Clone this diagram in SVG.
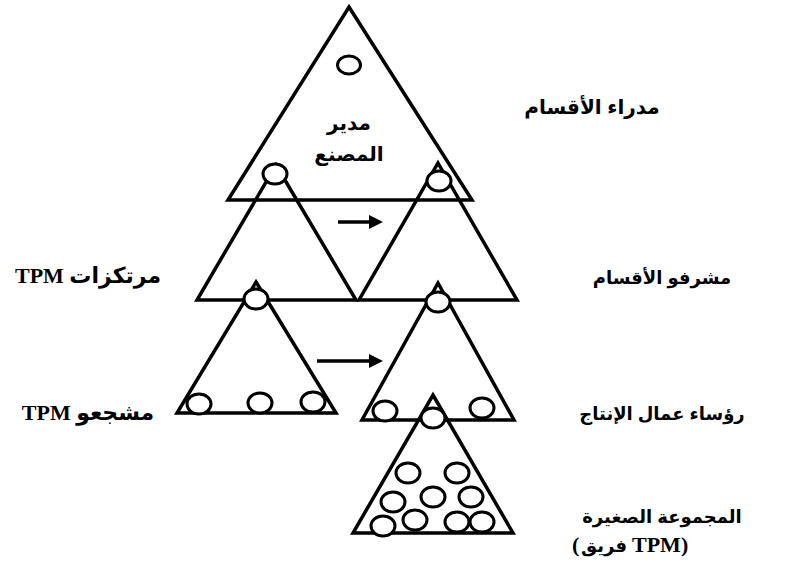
<svg xmlns="http://www.w3.org/2000/svg" width="806" height="570" viewBox="0 0 806 570">
<style>
.tri{fill:none;stroke:#000;stroke-width:3.5;stroke-linejoin:miter}
.c{fill:#fff;stroke:#000;stroke-width:3}
.ar{font-family:"Liberation Sans","DejaVu Sans",sans-serif;font-weight:bold;font-size:20px;fill:#000;text-anchor:middle}
.rl{font-size:18px}
.mx{font-family:"Liberation Serif","DejaVu Sans",serif;font-weight:bold;font-size:22px;fill:#000;text-anchor:middle}
.lt{font-family:"Liberation Serif",serif;font-weight:bold;font-size:22px;fill:#000;text-anchor:start;direction:ltr}
.ln{stroke:#000;stroke-width:3.5}
</style>
<defs>
<marker id="ah" markerWidth="14" markerHeight="14" refX="0" refY="7" orient="auto" markerUnits="userSpaceOnUse" viewBox="0 0 14 14">
<path d="M0,0 L14,7 L0,14 Z" fill="#000"/>
</marker>
</defs>
<rect width="806" height="570" fill="#fff"/>
<g id="top">
<polygon class="tri" points="349,7 472,200 228,200"/>
<ellipse class="c" cx="349" cy="65" rx="11.5" ry="9"/>
<text class="ar" x="349" y="130">مدير</text>
<text class="ar" x="349" y="161">المصنع</text>
</g>
<g id="row2-left">
<polygon class="tri" points="276,165 356,300 197,300"/>
<ellipse class="c" cx="275" cy="174" rx="12" ry="10"/>
</g>
<g id="row2-right">
<polygon class="tri" points="438,163 517,300 359,300"/>
<ellipse class="c" cx="439" cy="181" rx="12" ry="10"/>
</g>
<g id="row3-left">
<polygon class="tri" points="256,282 336,413 177,413"/>
<ellipse class="c" cx="256" cy="299" rx="12" ry="10"/>
<ellipse class="c" cx="199" cy="404" rx="12" ry="10"/>
<ellipse class="c" cx="260" cy="403" rx="12" ry="10"/>
<ellipse class="c" cx="313" cy="402" rx="12" ry="10"/>
</g>
<g id="row3-right">
<polygon class="tri" points="438,283 514,420 362,420"/>
<ellipse class="c" cx="438" cy="302" rx="12" ry="10"/>
<ellipse class="c" cx="385" cy="411" rx="12" ry="10"/>
<ellipse class="c" cx="482" cy="408" rx="12" ry="10"/>
</g>
<g id="row4">
<polygon class="tri" points="433,395 513,533 353,533"/>
<ellipse class="c" cx="433" cy="418" rx="12" ry="10"/>
<ellipse class="c" cx="408" cy="473" rx="12" ry="10"/>
<ellipse class="c" cx="457" cy="473" rx="12" ry="10"/>
<ellipse class="c" cx="393" cy="502" rx="12" ry="10"/>
<ellipse class="c" cx="433" cy="497" rx="12" ry="10"/>
<ellipse class="c" cx="471" cy="497" rx="12" ry="10"/>
<ellipse class="c" cx="383" cy="526" rx="12" ry="10"/>
<ellipse class="c" cx="415" cy="520" rx="12" ry="10"/>
<ellipse class="c" cx="457" cy="522" rx="12" ry="10"/>
<ellipse class="c" cx="482" cy="522" rx="12" ry="10"/>
</g>
<g id="connectors">
<line class="ln" x1="338" y1="222" x2="369" y2="222" marker-end="url(#ah)"/>
<line class="ln" x1="317" y1="361" x2="369" y2="361" marker-end="url(#ah)"/>
</g>
<g id="labels">
<text class="ar" x="592" y="114">مدراء الأقسام</text>
<text class="mx" x="88" y="283" direction="rtl" style="direction:rtl">مرتكزات TPM</text>
<text class="ar rl" x="662" y="284">مشرفو الأقسام</text>
<text class="mx" x="88" y="420" direction="rtl" style="direction:rtl">مشجعو TPM</text>
<text class="ar rl" x="662" y="420">رؤساء عمال الإنتاج</text>
<text class="ar rl" x="662" y="523">المجموعة الصغيرة</text>
<text class="lt" x="572" y="552" direction="ltr">(</text>
<text class="ar rl" x="604" y="552">فريق</text>
<text class="lt" x="632" y="552" direction="ltr">TPM)</text>
</g>
</svg>
